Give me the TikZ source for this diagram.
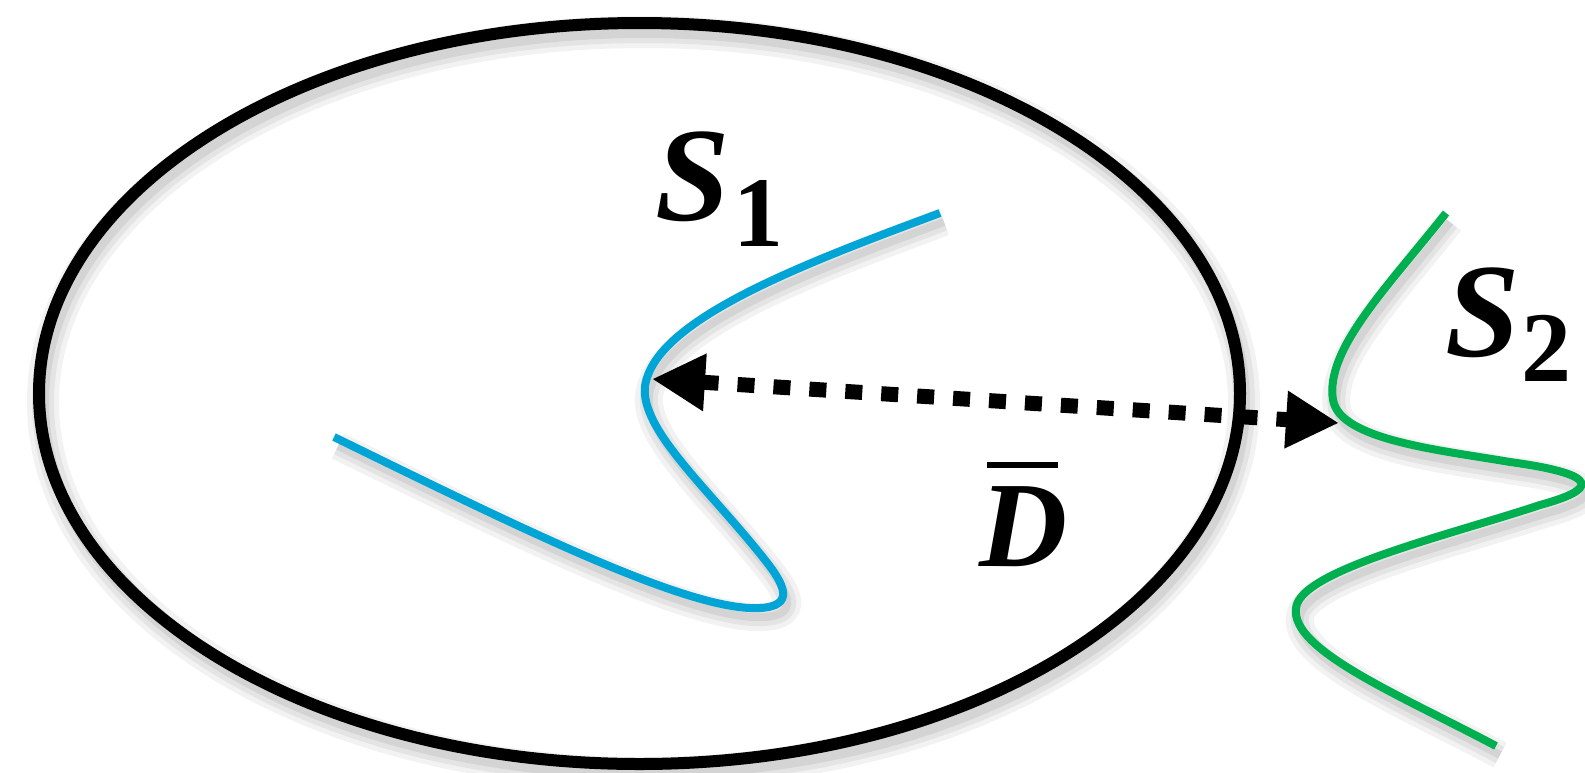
\documentclass[tikz,border=0pt]{standalone}
\usepackage{fontspec}
\setmainfont{Liberation Serif}
\usetikzlibrary{arrows.meta}
\definecolor{curveblue}{RGB}{0,165,214}
\definecolor{curvegreen}{RGB}{0,176,80}
\begin{document}
\begin{tikzpicture}[x=0.5pt,y=-0.5pt,
  shadowed/.style={
    preaction={draw=black, draw opacity=0.05, line width=#1+10pt,
      transform canvas={shift={(2pt,-4.5pt)}}},
    preaction={draw=black, draw opacity=0.06, line width=#1+5pt,
      transform canvas={shift={(2pt,-4.5pt)}}},
    preaction={draw=black, draw opacity=0.07, line width=#1,
      transform canvas={shift={(2pt,-4.5pt)}}}},
  ring/.style={draw=black, line width=6pt, shadowed=6pt},
  surfone/.style={draw=curveblue, line width=4pt, shadowed=4pt},
  surftwo/.style={draw=curvegreen, line width=4pt, shadowed=4pt},
  dist/.style={draw=black, line width=7.5pt, dash pattern=on 8.5pt off 9.5pt,
      {Triangle[length=26.5pt,width=27pt]}-{Triangle[length=26.5pt,width=27pt]}},
  lbl/.style={inner sep=0pt, font=\fontsize{67pt}{67pt}\selectfont}
]
\useasboundingbox (0,0) rectangle (1585,772);
% enclosing ellipse
\path[ring] (639.5,393.5) ellipse [x radius=600.5, y radius=370.5];
% S1 curve
\path[surfone] (334,437) .. controls (520,528) and (690,612) .. (760,608)
   .. controls (795,606) and (785,585) .. (765,560)
   .. controls (710,490) and (640,430) .. (645,386)
   .. controls (655,320) and (800,265) .. (940,213);
% S2 curve
\path[surftwo] (1446,213) .. controls (1385,290) and (1325,350) .. (1333,400)
   .. controls (1340,440) and (1440,450) .. (1510,462)
   .. controls (1605,475) and (1595,490) .. (1540,505)
   .. controls (1450,535) and (1300,570) .. (1296,608)
   .. controls (1290,650) and (1400,695) .. (1496,746);
% end points of the distance arrow
\coordinate (p1) at (652,379);
\coordinate (p2) at (1339,423);
\draw[dist] (p1) -- (p2);
% labels
\node[lbl, anchor=base west] (s1) at (655,220)
  {\textbf{\textit{S}}\kern2pt\raisebox{-13pt}{\fontsize{50pt}{50pt}\selectfont\bfseries 1}};
\node[lbl, anchor=base west] (s2) at (1445,356)
  {\textbf{\textit{S}}\kern1pt\raisebox{-12.5pt}{\fontsize{50pt}{50pt}\selectfont\bfseries 2}};
\node[lbl, anchor=base west, font=\fontsize{61pt}{61pt}\selectfont] (dbar) at (979,566)
  {\makebox[0pt][l]{\kern 4pt\rule[49pt]{35.5pt}{3pt}}\textbf{\textit{D}}};
\end{tikzpicture}
\end{document}
